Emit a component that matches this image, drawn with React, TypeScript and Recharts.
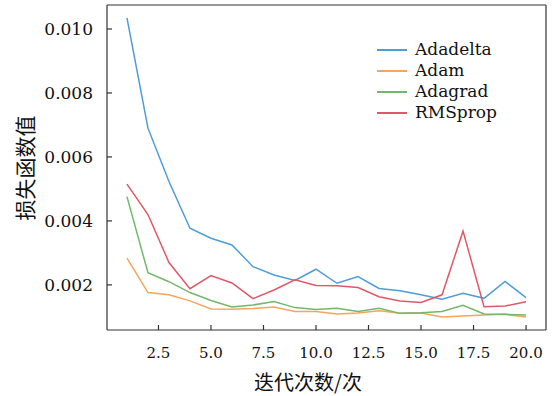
import React from "react";
import {
  LineChart,
  Line,
  XAxis,
  YAxis,
  Legend,
  ReferenceLine,
} from "recharts";

// iteration index 1..20
const iterations = [1, 2, 3, 4, 5, 6, 7, 8, 9, 10, 11, 12, 13, 14, 15, 16, 17, 18, 19, 20];

const adadelta = [0.01035, 0.0069, 0.00523, 0.00377, 0.00346, 0.00325, 0.00257, 0.00231, 0.00214, 0.00249,
  0.00205, 0.00226, 0.00189, 0.00182, 0.00169, 0.00155, 0.00174, 0.00158, 0.00211, 0.0016];
const adam = [0.00284, 0.00176, 0.00169, 0.0015, 0.00125, 0.00124, 0.00126, 0.00131, 0.00117, 0.00117,
  0.00109, 0.00112, 0.00119, 0.00111, 0.00112, 0.001, 0.00103, 0.00106, 0.00108, 0.001];
const adagrad = [0.00476, 0.00238, 0.0021, 0.00176, 0.00151, 0.00131, 0.00137, 0.00148, 0.00129, 0.00123,
  0.00127, 0.00117, 0.00127, 0.00111, 0.00113, 0.00117, 0.00136, 0.00109, 0.00108, 0.00106];
const rmsprop = [0.00515, 0.0042, 0.0027, 0.00188, 0.00229, 0.00206, 0.00157, 0.00184, 0.00216, 0.00198,
  0.00197, 0.00192, 0.00163, 0.0015, 0.00145, 0.00169, 0.00368, 0.00132, 0.00134, 0.00147];

const xTicks = [2.5, 5, 7.5, 10, 12.5, 15, 17.5, 20];
const yTicks = [0.002, 0.004, 0.006, 0.008, 0.01];

const series = [
  { key: "Adadelta", color: "#4f9dd5" },
  { key: "Adam", color: "#f5a55c" },
  { key: "Adagrad", color: "#72b86c" },
  { key: "RMSprop", color: "#e05868" },
];

const data = iterations.map((it, i) => ({
  it,
  Adadelta: adadelta[i],
  Adam: adam[i],
  Adagrad: adagrad[i],
  RMSprop: rmsprop[i],
}));

const serif = "'DejaVu Serif', serif";
const cjk = "'Noto Sans CJK SC', sans-serif";
const X_DOMAIN: [number, number] = [0.05, 20.95];
const Y_DOMAIN: [number, number] = [0.00059, 0.01075];
const ink = "#333";

// ticks point inwards, so draw mark + label by hand
const XTick = (p: any) => (
  <g>
    <path d={`M${p.x},${p.y}V${p.y - 5}`} stroke={ink} strokeWidth={1.2} fill="none" />
    <text x={p.x} y={p.y + 28} textAnchor="middle" fill="#111" fontFamily={serif} fontSize={15}>
      {Number(p.payload.value).toFixed(1)}
    </text>
  </g>
);

const YTick = (p: any) => (
  <g>
    <path d={`M${p.x},${p.y}H${p.x + 5}`} stroke={ink} strokeWidth={1.2} fill="none" />
    <text x={p.x - 14} y={p.y + 6} textAnchor="end" fill="#111" fontFamily={serif} fontSize={17}>
      {Number(p.payload.value).toFixed(3)}
    </text>
  </g>
);

const LegendBox = () => (
  <div style={{ fontFamily: serif, fontSize: 17, lineHeight: "21px", color: "#111" }}>
    {series.map((s) => (
      <div key={s.key} style={{ display: "flex", alignItems: "center", height: 21 }}>
        <span style={{ display: "inline-block", width: 30, height: 2, background: s.color, marginRight: 8 }} />
        <span>{s.key}</span>
      </div>
    ))}
  </div>
);

export default function App() {
  return (
    <div style={{ position: "absolute", left: 0, top: 0, width: 555, height: 396, background: "#fff" }}>
      <LineChart
        width={555}
        height={396}
        data={data}
        margin={{ top: 5, right: 9, bottom: 26, left: 37 }}
      >
        <XAxis
          dataKey="it"
          type="number"
          domain={X_DOMAIN}
          ticks={xTicks}
          allowDataOverflow
          height={40}
          tickSize={0}
          tickMargin={0}
          axisLine={false}
          tickLine={false}
          tick={XTick}
        />
        <YAxis
          type="number"
          domain={Y_DOMAIN}
          ticks={yTicks}
          allowDataOverflow
          width={70}
          tickSize={0}
          tickMargin={0}
          axisLine={false}
          tickLine={false}
          tick={YTick}
        />
        {/* frame around the plot */}
        <ReferenceLine x={X_DOMAIN[0]} stroke={ink} strokeWidth={1.2} ifOverflow="visible" />
        <ReferenceLine x={X_DOMAIN[1]} stroke={ink} strokeWidth={1.2} ifOverflow="visible" />
        <ReferenceLine y={Y_DOMAIN[0]} stroke={ink} strokeWidth={1.2} ifOverflow="visible" />
        <ReferenceLine y={Y_DOMAIN[1]} stroke={ink} strokeWidth={1.2} ifOverflow="visible" />
        {series.map((s) => (
          <Line
            key={s.key}
            dataKey={s.key}
            type="linear"
            stroke={s.color}
            strokeWidth={1.5}
            dot={false}
            isAnimationActive={false}
          />
        ))}
        <Legend
          layout="vertical"
          align="center"
          verticalAlign="middle"
          content={() => <LegendBox />}
          wrapperStyle={{ left: 377, top: 39, width: 140 }}
        />
      </LineChart>
      <div
        style={{
          position: "absolute",
          left: 208,
          top: 367,
          width: 200,
          textAlign: "center",
          fontFamily: cjk,
          fontSize: 20,
          color: "#111",
          whiteSpace: "nowrap",
        }}
      >
        迭代次数/次
      </div>
      <div
        style={{
          position: "absolute",
          left: 24,
          top: 168,
          transform: "translate(-50%, -50%) rotate(-90deg)",
          fontFamily: cjk,
          fontSize: 21,
          color: "#111",
          whiteSpace: "nowrap",
        }}
      >
        损失函数值
      </div>
    </div>
  );
}
